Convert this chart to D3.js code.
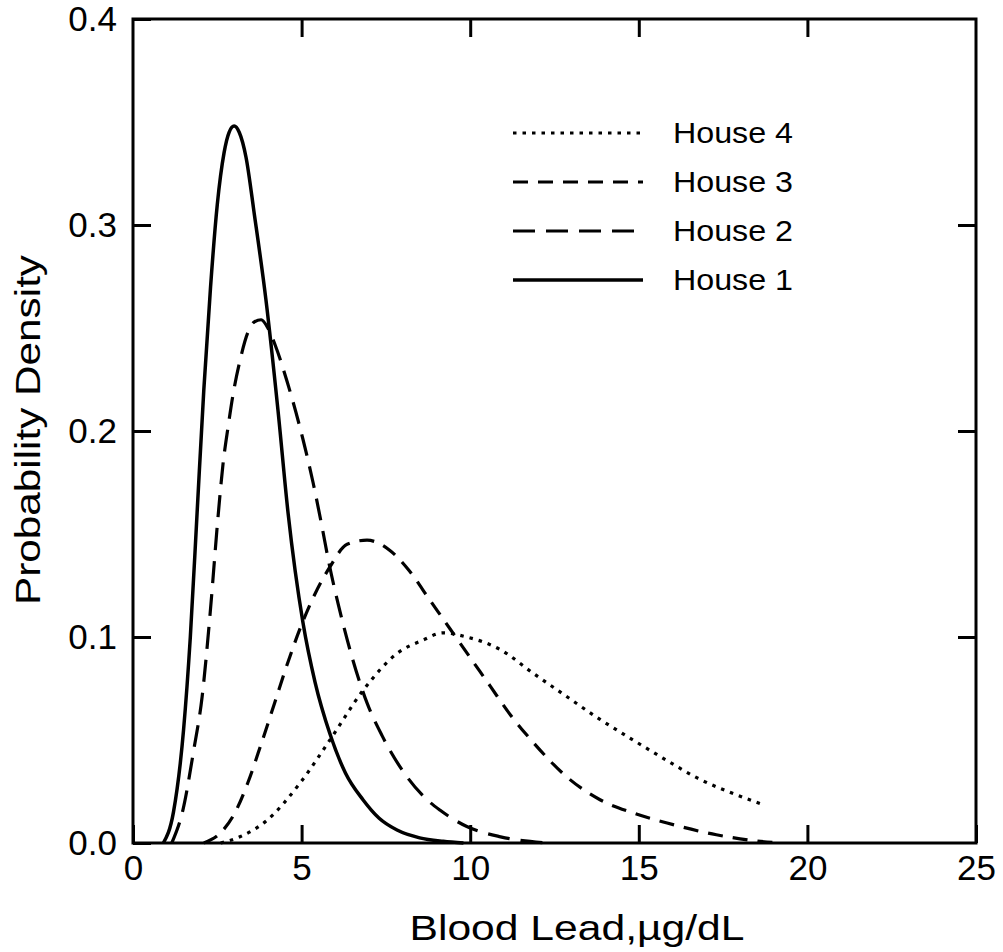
<!DOCTYPE html>
<html>
<head>
<meta charset="utf-8">
<script src="https://cdn.jsdelivr.net/npm/d3@7"></script>
<style>
  body { margin: 0; background: #fff; }
  svg text { font-family: "Liberation Sans", Arial, sans-serif; fill: #000; }
</style>
</head>
<body>
<div id="chart"></div>
<script>
// values (blood lead, ug/dL vs density)
const house1X = [0.9, 1.2, 1.5, 1.7, 1.9, 2.1, 2.3, 2.5, 2.7, 2.85, 3.0, 3.15, 3.35, 3.6, 3.94, 4.3, 4.6, 5.04, 5.4, 5.84, 6.3, 6.82, 7.3, 7.83, 8.5, 9.2, 9.8];
const house1Y = [0, 0.015, 0.055, 0.1, 0.16, 0.22, 0.27, 0.31, 0.335, 0.345, 0.348, 0.345, 0.333, 0.305, 0.264, 0.21, 0.16, 0.107, 0.078, 0.053, 0.034, 0.021, 0.012, 0.0063, 0.0025, 0.0008, 0];

const house2X = [1.15, 1.48, 1.8, 2.05, 2.28, 2.52, 2.67, 2.82, 2.97, 3.17, 3.41, 3.6, 3.8, 4.0, 4.21, 4.57, 5.04, 5.34, 5.6, 5.81, 6.1, 6.5, 6.94, 7.39, 8.13, 8.72, 9.1, 9.9, 10.9, 12.3];
const house2Y = [0, 0.016, 0.045, 0.071, 0.11, 0.158, 0.184, 0.202, 0.218, 0.234, 0.248, 0.253, 0.254, 0.25, 0.242, 0.224, 0.196, 0.175, 0.154, 0.136, 0.115, 0.09, 0.068, 0.052, 0.032, 0.021, 0.016, 0.008, 0.003, 0];

const house3X = [2.1, 2.6, 3.0, 3.4, 3.8, 4.2, 4.6, 5.0, 5.4, 5.84, 6.35, 6.94, 7.62, 8.2, 8.8, 9.4, 10.0, 10.6, 11.2, 11.86, 12.87, 13.85, 14.83, 15.84, 17.3, 18.8, 19.2];
const house3Y = [0, 0.005, 0.014, 0.029, 0.048, 0.068, 0.088, 0.106, 0.121, 0.134, 0.145, 0.147, 0.142, 0.132, 0.118, 0.104, 0.09, 0.076, 0.062, 0.049, 0.032, 0.021, 0.0146, 0.0097, 0.004, 0.0005, 0];

const house4X = [2.6, 3.17, 3.97, 4.95, 5.84, 6.82, 7.83, 8.6, 9.19, 9.9, 10.88, 11.86, 12.87, 13.85, 14.83, 15.84, 16.8, 17.8, 18.7];
const house4Y = [0, 0.003, 0.011, 0.029, 0.05, 0.074, 0.092, 0.0985, 0.102, 0.1, 0.094, 0.0825, 0.071, 0.06, 0.05, 0.04, 0.031, 0.024, 0.0185];

const xTicks = [0, 5, 10, 15, 20, 25];
const yTicks = [0.0, 0.1, 0.2, 0.3, 0.4];

// legend order top to bottom
const legendNames = ['House 4', 'House 3', 'House 2', 'House 1'];

const dashes = {
    'House 1': null,
    'House 2': '22 11',
    'House 3': '15 10',
    'House 4': '3.5 6'
};

const series = [
    { name: 'House 1', xs: house1X, ys: house1Y },
    { name: 'House 2', xs: house2X, ys: house2Y },
    { name: 'House 3', xs: house3X, ys: house3Y },
    { name: 'House 4', xs: house4X, ys: house4Y }
];

const W = 1003, H = 952;
const margin = { top: 19, right: 27, bottom: 109, left: 133 };
const iw = W - margin.left - margin.right;
const ih = H - margin.top - margin.bottom;

const svg = d3.select('#chart').append('svg')
    .attr('width', W).attr('height', H);

const g = svg.append('g').attr('transform', `translate(${margin.left},${margin.top})`);

const x = d3.scaleLinear().domain([0, 25]).range([0, iw]);
const y = d3.scaleLinear().domain([0, 0.4]).range([ih, 0]);

// curves first, frame on top
const line = d3.line()
    .x(d => x(d[0])).y(d => y(d[1]))
    .curve(d3.curveMonotoneX);

g.append('g').selectAll('path').data(series).enter().append('path')
    .attr('d', s => line(s.xs.map((v, i) => [v, s.ys[i]])))
    .attr('fill', 'none')
    .attr('stroke', '#000')
    .attr('stroke-width', d => d.name === 'House 1' ? 3.5 : 3.2)
    .attr('stroke-dasharray', d => dashes[d.name]);

// axes: inward ticks on all four sides
const tickLen = 18;
const axisStyle = sel => {
    sel.select('.domain').remove();
    sel.selectAll('.tick line').attr('stroke', '#000').attr('stroke-width', 3);
    sel.selectAll('.tick text').style('font-size', '35px');
};

g.append('g').attr('transform', `translate(0,${ih})`)
    .call(d3.axisBottom(x).tickValues(xTicks).tickFormat(d3.format('d'))
        .tickSizeInner(-tickLen).tickSizeOuter(0).tickPadding(12))
    .call(axisStyle);

g.append('g')
    .call(d3.axisTop(x).tickValues(xTicks.slice(1, -1)).tickFormat('')
        .tickSizeInner(-tickLen).tickSizeOuter(0))
    .call(axisStyle);

g.append('g')
    .call(d3.axisLeft(y).tickValues(yTicks).tickFormat(d3.format('.1f'))
        .tickSizeInner(-tickLen).tickSizeOuter(0).tickPadding(16))
    .call(axisStyle);

g.append('g').attr('transform', `translate(${iw},0)`)
    .call(d3.axisRight(y).tickValues(yTicks.slice(1, -1)).tickFormat('')
        .tickSizeInner(-tickLen).tickSizeOuter(0))
    .call(axisStyle);

g.append('rect')
    .attr('width', iw).attr('height', ih)
    .attr('fill', 'none').attr('stroke', '#000').attr('stroke-width', 3);

// axis titles
svg.append('text')
    .attr('x', 577).attr('y', 940)
    .attr('text-anchor', 'middle')
    .attr('textLength', 335).attr('lengthAdjust', 'spacingAndGlyphs')
    .style('font-size', '35px')
    .text('Blood Lead,\u00b5g/dL');

svg.append('text')
    .attr('transform', 'translate(40,430) rotate(-90)')
    .attr('text-anchor', 'middle')
    .attr('textLength', 350).attr('lengthAdjust', 'spacingAndGlyphs')
    .style('font-size', '35px')
    .text('Probability Density');

// legend
const legend = svg.append('g');
const legendRow = legend.selectAll('g').data(legendNames).enter().append('g')
    .attr('transform', (d, i) => `translate(513,${133 + i * 49})`);

legendRow.append('line')
    .attr('x1', 0).attr('x2', 130)
    .attr('stroke', '#000')
    .attr('stroke-width', d => d === 'House 1' ? 3.5 : 3.2)
    .attr('stroke-dasharray', d => dashes[d]);

legendRow.append('text')
    .attr('x', 160).attr('dy', '0.36em')
    .attr('textLength', 120).attr('lengthAdjust', 'spacingAndGlyphs')
    .style('font-size', '29px')
    .text(d => d);
</script>
</body>
</html>
